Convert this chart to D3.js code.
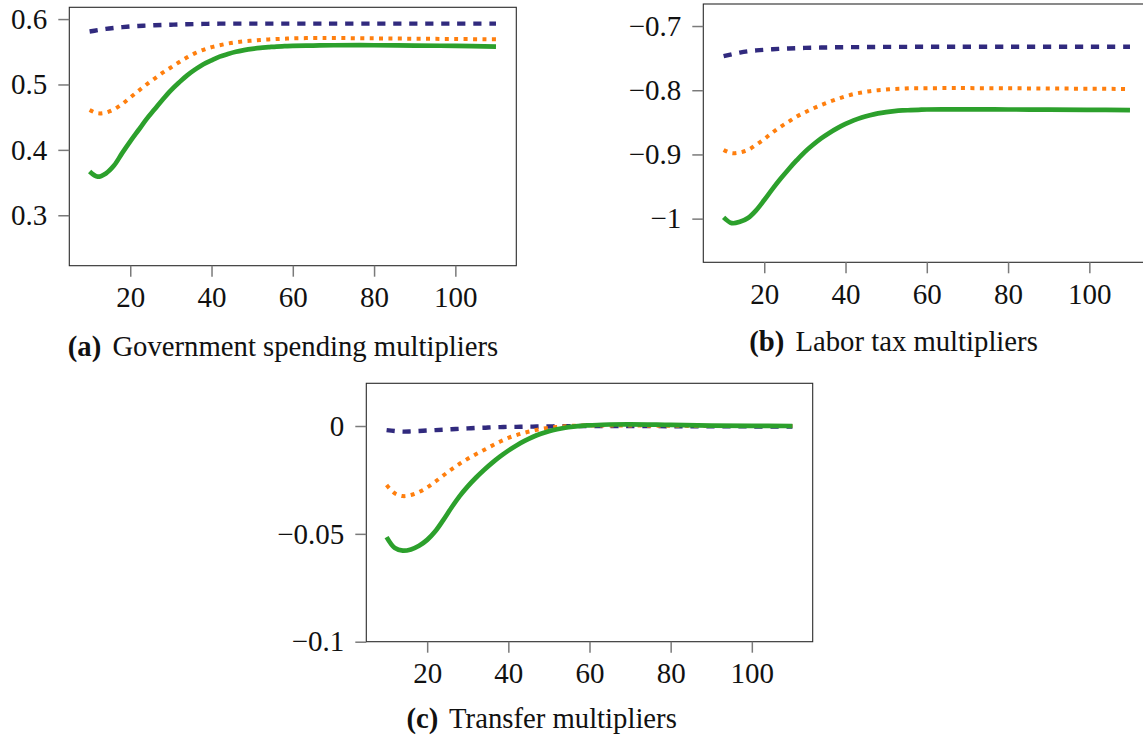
<!DOCTYPE html>
<html lang="en">
  <head>
    <meta charset="UTF-8" />
    <title>Multipliers</title>
    <script src="https://cdn.jsdelivr.net/npm/d3@7"></script>
    <style>
      body { margin: 0; background: #fff; }
      svg { display: block; font-family: 'Liberation Serif', 'Times New Roman', 'DejaVu Serif', 'Noto Serif', serif; }
    </style>
  </head>
  <body>
    <div id="chart_svg"></div>
    <script>
      const xs = [10, 12, 14, 16, 18, 20, 22, 24, 26, 28, 30, 32, 34, 36, 38, 40, 42, 44, 46, 48, 50, 52, 54, 56, 58, 60, 65, 70, 80, 90, 100, 110]

      // (a) government spending
      const govDashed = [0.581, 0.583, 0.585, 0.5865, 0.5877, 0.5887, 0.5895, 0.59, 0.5906, 0.591, 0.5914, 0.5918, 0.5921, 0.5924, 0.5926, 0.5928, 0.593, 0.593, 0.593, 0.593, 0.593, 0.593, 0.593, 0.593, 0.593, 0.593, 0.593, 0.593, 0.593, 0.593, 0.593, 0.593]
      const govDotted = [0.461, 0.456, 0.457, 0.462, 0.47, 0.48, 0.49, 0.5, 0.509, 0.518, 0.526, 0.534, 0.5415, 0.548, 0.553, 0.557, 0.56, 0.5625, 0.5645, 0.566, 0.567, 0.568, 0.5688, 0.5695, 0.57, 0.5705, 0.571, 0.571, 0.5705, 0.57, 0.5695, 0.569]
      const govSolid = [0.367, 0.359, 0.364, 0.376, 0.395, 0.413, 0.43, 0.447, 0.462, 0.477, 0.491, 0.503, 0.514, 0.523, 0.531, 0.537, 0.5425, 0.5465, 0.55, 0.5525, 0.5545, 0.556, 0.557, 0.558, 0.5585, 0.559, 0.5595, 0.56, 0.56, 0.5595, 0.559, 0.558]

      // (b) labor tax
      const taxDashed = [-0.747, -0.744, -0.7413, -0.7393, -0.738, -0.737, -0.7362, -0.7355, -0.735, -0.7345, -0.7341, -0.7338, -0.7335, -0.7333, -0.7331, -0.733, -0.7329, -0.7328, -0.7327, -0.7326, -0.7325, -0.7325, -0.7324, -0.7324, -0.7323, -0.7323, -0.7322, -0.7322, -0.7322, -0.7322, -0.7322, -0.7322]
      const taxDotted = [-0.893, -0.898, -0.897, -0.893, -0.885, -0.876, -0.866, -0.857, -0.849, -0.841, -0.8345, -0.8285, -0.823, -0.818, -0.8135, -0.8095, -0.806, -0.8035, -0.8015, -0.8, -0.799, -0.798, -0.7975, -0.797, -0.797, -0.7968, -0.7967, -0.7967, -0.797, -0.7973, -0.7977, -0.798]
      const taxSolid = [-0.998, -1.007, -1.005, -0.999, -0.987, -0.971, -0.954, -0.938, -0.923, -0.909, -0.896, -0.885, -0.875, -0.8665, -0.859, -0.8525, -0.847, -0.8425, -0.839, -0.836, -0.834, -0.8325, -0.8315, -0.831, -0.8305, -0.83, -0.8298, -0.8298, -0.83, -0.8302, -0.8305, -0.831]

      // (c) transfers
      const trDashed = [-0.0019, -0.0023, -0.0026, -0.0025, -0.0023, -0.0021, -0.0019, -0.0017, -0.0015, -0.0013, -0.0011, -0.0009, -0.0008, -0.0006, -0.0005, -0.0004, -0.0004, -0.0003, -0.0003, -0.0002, -0.0002, -0.0001, -0.0001, -0.0001, 0, 0, 0, 0, -0.0001, -0.0001, -0.0002, -0.0002]
      const trDotted = [-0.0274, -0.0312, -0.0325, -0.032, -0.0306, -0.0285, -0.0258, -0.0229, -0.0201, -0.0175, -0.0152, -0.0131, -0.0111, -0.0091, -0.0072, -0.0055, -0.0042, -0.0031, -0.0022, -0.0014, -0.0008, -0.0004, -0.0001, 0.0001, 0.0002, 0.0002, 0.0002, 0.0002, 0.0001, 0, 0, 0]
      const trSolid = [-0.0515, -0.0565, -0.0578, -0.0572, -0.0555, -0.0528, -0.0488, -0.0435, -0.0378, -0.0325, -0.028, -0.024, -0.0204, -0.0171, -0.0141, -0.0114, -0.009, -0.0069, -0.0051, -0.0036, -0.0024, -0.0015, -0.0008, -0.0003, 0.0001, 0.0003, 0.0007, 0.0008, 0.0005, 0.0002, 0.0001, 0]

      const xTicks = [20, 40, 60, 80, 100]
      const govYTicks = [0.3, 0.4, 0.5, 0.6]
      const govYLabels = ['0.3', '0.4', '0.5', '0.6']
      const taxYTicks = [-1, -0.9, -0.8, -0.7]
      const taxYLabels = ['\u22121', '\u22120.9', '\u22120.8', '\u22120.7']
      const trYTicks = [-0.1, -0.05, 0]
      const trYLabels = ['\u22120.1', '\u22120.05', '0']

      const captions = [
        ['(a)', 'Government spending multipliers'],
        ['(b)', 'Labor tax multipliers'],
        ['(c)', 'Transfer multipliers']
      ]

      const styles = {
        dashed: { color: '#312a7e', width: 4.4, dash: '8.2 7.8' },
        dotted: { color: '#ff7f0e', width: 4, dash: '4 5.4' },
        solid: { color: '#2ca02c', width: 4.7, dash: null }
      }

      const svg = d3
        .select('#chart_svg')
        .append('svg')
        .attr('width', 1143)
        .attr('height', 738)

      // size whatever font is picked so its widths match the reference text
      function fitSize(str, target) {
        const probe = svg.append('text').style('font-size', '100px').text(str)
        const w = probe.node().getComputedTextLength()
        probe.remove()
        return (100 * target) / w
      }
      const tickFont = fitSize('100', 43.5)
      const capFont = fitSize('Government spending multipliers', 386)

      function drawPanel(p) {
        const x = d3.scaleLinear().domain([5, 115]).range([p.left, p.right])
        const y = d3.scaleLinear().domain(p.yDomain).range([p.bottom, p.top])
        const g = svg.append('g')

        g.append('rect')
          .attr('x', p.left)
          .attr('y', p.top)
          .attr('width', p.right - p.left)
          .attr('height', p.bottom - p.top)
          .attr('fill', 'none')
          .attr('stroke', '#2a2a2a')
          .attr('stroke-width', 1.1)

        const xAxis = g
          .append('g')
          .attr('transform', `translate(0,${p.bottom})`)
          .call(d3.axisBottom(x).tickValues(xTicks).tickSize(11).tickSizeOuter(0).tickPadding(10))
        const yAxis = g
          .append('g')
          .attr('transform', `translate(${p.left},0)`)
          .call(
            d3
              .axisLeft(y)
              .tickValues(p.yTicks)
              .tickFormat((d, i) => p.yLabels[i])
              .tickSize(11)
              .tickSizeOuter(0)
              .tickPadding(11)
          )
        ;[xAxis, yAxis].forEach(a => {
          a.attr('font-family', null).attr('font-size', null)
          a.select('.domain').remove()
          a.selectAll('line').attr('stroke', '#7a7a7a').attr('stroke-width', 1.5)
          a.selectAll('text').attr('fill', '#111').style('font-size', tickFont + 'px')
        })

        const line = d3
          .line()
          .x((d, i) => x(xs[i]))
          .y(d => y(d))
          .curve(d3.curveCatmullRom.alpha(0.5))

        p.series.forEach(([key, values]) => {
          const s = styles[key]
          g.append('path')
            .datum(values)
            .attr('d', line)
            .attr('fill', 'none')
            .attr('stroke', s.color)
            .attr('stroke-width', s.width)
            .attr('stroke-dasharray', s.dash)
            .attr('stroke-linejoin', 'round')
        })

        const cap = g
          .append('text')
          .attr('x', p.capX)
          .attr('y', p.capY)
          .attr('text-anchor', 'middle')
          .attr('fill', '#111')
          .style('font-size', capFont + 'px')
        cap.append('tspan').attr('font-weight', 'bold').text(captions[p.idx][0])
        cap.append('tspan').attr('dx', 4).text(' ' + captions[p.idx][1])
      }

      drawPanel({
        idx: 0, left: 69.3, right: 516.3, top: 7.3, bottom: 265.7,
        yDomain: [0.2229, 0.618], yTicks: govYTicks, yLabels: govYLabels,
        series: [['dashed', govDashed], ['dotted', govDotted], ['solid', govSolid]],
        capX: 283, capY: 356
      })
      drawPanel({
        idx: 1, left: 703.3, right: 1150.3, top: 4, bottom: 262.3,
        yDomain: [-1.068, -0.6657], yTicks: taxYTicks, yLabels: taxYLabels,
        series: [['dashed', taxDashed], ['dotted', taxDotted], ['solid', taxSolid]],
        capX: 893.5, capY: 351
      })
      drawPanel({
        idx: 2, left: 366.3, right: 812.7, top: 383.3, bottom: 641.7,
        yDomain: [-0.1, 0.0198], yTicks: trYTicks, yLabels: trYLabels,
        series: [['dashed', trDashed], ['dotted', trDotted], ['solid', trSolid]],
        capX: 541.7, capY: 728
      })
    </script>
  </body>
</html>
